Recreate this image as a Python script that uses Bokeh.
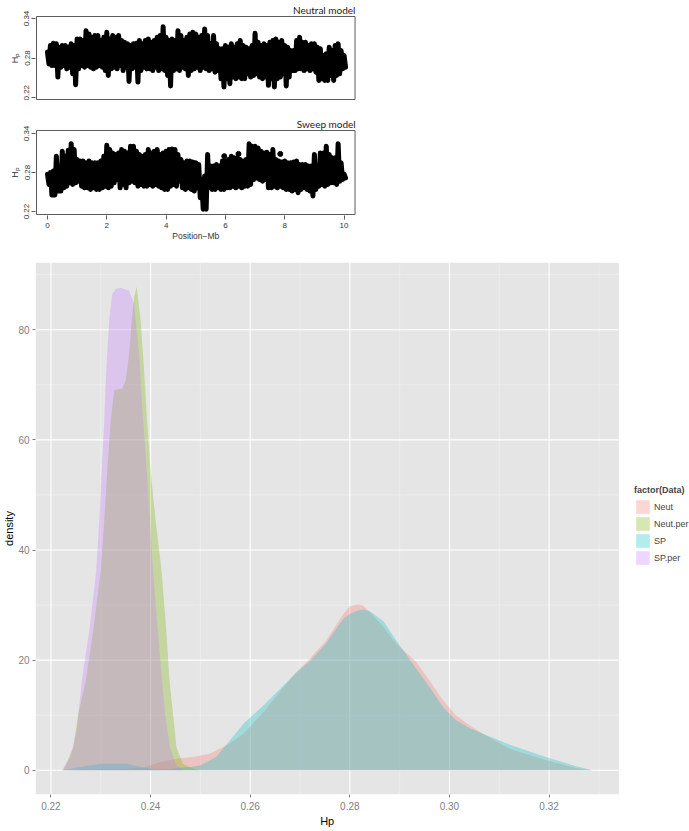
import json
import numpy as np
from bokeh.plotting import figure
from bokeh.layouts import column
from bokeh.models import (Range1d, FixedTicker, NumeralTickFormatter, Legend, LegendItem,
                          LinearAxis, CustomJSTickFormatter)
from bokeh.embed import file_html
from bokeh.resources import INLINE

# ---------------- data ----------------
positions_mb = [round(0.1 * i, 1) for i in range(101)]

neutral_hi = [0.289, 0.299, 0.3025, 0.3015, 0.2965, 0.299, 0.299, 0.2965, 0.3015, 0.299,
              0.309, 0.309, 0.3065, 0.3215, 0.3165, 0.3115, 0.314, 0.314, 0.3065, 0.3115,
              0.319, 0.309, 0.314, 0.3115, 0.314, 0.3065, 0.304, 0.3015, 0.299, 0.3015,
              0.3025, 0.3065, 0.3015, 0.3065, 0.309, 0.304, 0.3065, 0.3115, 0.314, 0.3275,
              0.3115, 0.3065, 0.309, 0.3065, 0.3215, 0.314, 0.3065, 0.3115, 0.3165, 0.319,
              0.3165, 0.3115, 0.314, 0.324, 0.314, 0.3015, 0.314, 0.3015, 0.294, 0.294,
              0.299, 0.2965, 0.3015, 0.2965, 0.3015, 0.3065, 0.299, 0.2965, 0.294, 0.299,
              0.3175, 0.304, 0.299, 0.3015, 0.299, 0.304, 0.3065, 0.309, 0.304, 0.3065,
              0.299, 0.2965, 0.2915, 0.2915, 0.3065, 0.3115, 0.304, 0.304, 0.299, 0.3015,
              0.3015, 0.2965, 0.294, 0.284, 0.2865, 0.2965, 0.2915, 0.299, 0.3015, 0.2915,
              0.284]
neutral_lo = [0.271, 0.2685, 0.2685, 0.251, 0.266, 0.2685, 0.2635, 0.266, 0.256, 0.2395,
              0.2635, 0.2685, 0.266, 0.2685, 0.266, 0.2635, 0.266, 0.2685, 0.266, 0.261,
              0.2535, 0.2635, 0.266, 0.2635, 0.2685, 0.261, 0.266, 0.2445, 0.2635, 0.266,
              0.2435, 0.261, 0.266, 0.2635, 0.2635, 0.261, 0.266, 0.261, 0.2635, 0.261,
              0.2535, 0.2375, 0.261, 0.2635, 0.261, 0.266, 0.2635, 0.2535, 0.261, 0.2635,
              0.266, 0.261, 0.266, 0.2635, 0.261, 0.2635, 0.2585, 0.261, 0.2485, 0.236,
              0.2485, 0.241, 0.251, 0.2485, 0.251, 0.2485, 0.2485, 0.256, 0.251, 0.2535,
              0.256, 0.251, 0.2485, 0.251, 0.2385, 0.2485, 0.236, 0.2485, 0.251, 0.256,
              0.2375, 0.251, 0.261, 0.261, 0.2635, 0.2635, 0.261, 0.2635, 0.261, 0.2635,
              0.2585, 0.246, 0.2485, 0.246, 0.246, 0.2535, 0.246, 0.2535, 0.256, 0.2635,
              0.266]

sweep_hi = [0.2773, 0.2798, 0.2823, 0.3051, 0.2849, 0.3127, 0.3051, 0.3142, 0.3243, 0.3152,
            0.3000, 0.2975, 0.2975, 0.2950, 0.2975, 0.2950, 0.2950, 0.2950, 0.2975, 0.3051,
            0.3218, 0.3152, 0.3101, 0.3076, 0.3101, 0.3152, 0.3127, 0.3101, 0.3203, 0.3203,
            0.3127, 0.3076, 0.3051, 0.3076, 0.3152, 0.3101, 0.3127, 0.3152, 0.3076, 0.3101,
            0.3127, 0.3152, 0.3162, 0.3152, 0.3076, 0.3000, 0.2950, 0.2975, 0.2975, 0.2960,
            0.2950, 0.2924, 0.2697, 0.2747, 0.3076, 0.2899, 0.2899, 0.2924, 0.2899, 0.2975,
            0.2975, 0.3000, 0.3051, 0.3026, 0.3026, 0.3000, 0.2975, 0.3000, 0.3243, 0.3203,
            0.3203, 0.3177, 0.3127, 0.3101, 0.3112, 0.3076, 0.3152, 0.3000, 0.2975, 0.2960,
            0.2975, 0.2950, 0.2950, 0.2960, 0.2975, 0.2924, 0.2924, 0.2924, 0.2899, 0.2899,
            0.3076, 0.2899, 0.3101, 0.3101, 0.3203, 0.3076, 0.3026, 0.3026, 0.3243, 0.2950,
            0.2773]
sweep_lo = [0.2616, 0.2454, 0.2454, 0.2515, 0.2515, 0.2565, 0.2590, 0.2641, 0.2616, 0.2641,
            0.2666, 0.2590, 0.2565, 0.2565, 0.2540, 0.2565, 0.2540, 0.2540, 0.2565, 0.2590,
            0.2565, 0.2590, 0.2641, 0.2692, 0.2565, 0.2616, 0.2565, 0.2641, 0.2666, 0.2641,
            0.2590, 0.2616, 0.2590, 0.2590, 0.2616, 0.2590, 0.2616, 0.2590, 0.2565, 0.2540,
            0.2540, 0.2590, 0.2616, 0.2590, 0.2666, 0.2565, 0.2540, 0.2565, 0.2540, 0.2515,
            0.2565, 0.2413, 0.2236, 0.2236, 0.2565, 0.2540, 0.2540, 0.2565, 0.2540, 0.2540,
            0.2565, 0.2565, 0.2590, 0.2565, 0.2590, 0.2565, 0.2590, 0.2590, 0.2616, 0.2692,
            0.2717, 0.2692, 0.2666, 0.2692, 0.2565, 0.2565, 0.2590, 0.2565, 0.2590, 0.2565,
            0.2540, 0.2540, 0.2515, 0.2540, 0.2489, 0.2540, 0.2565, 0.2540, 0.2515, 0.2439,
            0.2540, 0.2590, 0.2616, 0.2590, 0.2616, 0.2641, 0.2641, 0.2616, 0.2666, 0.2692,
            0.2717]
sweep_dot_mb = [5.96, 6.44, 7.85]
sweep_dot_hp = [0.3051, 0.3086, 0.3086]
hp_ticks = [0.22, 0.28, 0.34]
mb_ticks = [0, 2, 4, 6, 8, 10]

groups = ["Neut", "Neut.per", "SP", "SP.per"]
neut_x = [0.2235, 0.2300, 0.2350, 0.2385, 0.2419, 0.2452, 0.2485, 0.2519, 0.2539, 0.2560,
          0.2587, 0.2627, 0.2667, 0.2693, 0.2720, 0.2753, 0.2787, 0.2800, 0.2817, 0.2827,
          0.2840, 0.2867, 0.2893, 0.2933, 0.2960, 0.2987, 0.3013, 0.3040, 0.3067, 0.3120,
          0.3187, 0.3253, 0.3287]
neut_y = [0, 0.2, 0.3, 0.5, 1.5, 2.1, 2.4, 3.0, 3.9, 4.9,
          6.65, 10.6, 15.1, 17.8, 20.3, 23.6, 28.4, 29.8, 30.1, 29.9,
          28.7, 26.0, 23.0, 19.7, 16.3, 12.7, 10.0, 8.2, 6.65, 3.9,
          2.0, 0.4, 0]
neutper_x = [0.2225, 0.2245, 0.2255, 0.2270, 0.2286, 0.2300, 0.2307, 0.2313, 0.2320, 0.2327,
             0.2335, 0.2343, 0.2350, 0.2357, 0.2362, 0.2367, 0.2372, 0.2380, 0.2387, 0.2393,
             0.2400, 0.2410, 0.2422, 0.2431, 0.2438, 0.2445, 0.2452, 0.2465, 0.2485, 0.2499]
neutper_y = [0, 4.2, 10.3, 16.3, 26.0, 36.3, 45.4, 54.4, 63.5, 69.0,
             69.2, 69.3, 70.8, 75.6, 81.7, 85.9, 87.8, 81.7, 72.6, 63.5,
             54.4, 45.4, 36.3, 26.0, 16.3, 10.3, 4.2, 1.2, 0.3, 0]
sp_x = [0.2222, 0.2252, 0.2299, 0.2352, 0.2385, 0.2405, 0.2440, 0.2480, 0.2500, 0.2532,
        0.2559, 0.2587, 0.2627, 0.2667, 0.2693, 0.2720, 0.2753, 0.2787, 0.2800, 0.2817,
        0.2827, 0.2840, 0.2867, 0.2893, 0.2933, 0.2960, 0.2987, 0.3013, 0.3040, 0.3067,
        0.3120, 0.3187, 0.3253, 0.3287]
sp_y = [0, 0.5, 1.2, 1.2, 0.5, 0.3, 0.3, 0.6, 0.9, 2.4,
        5.4, 8.5, 11.8, 15.4, 17.8, 19.8, 23.1, 27.5, 28.4, 29.0,
        29.2, 28.9, 27.1, 23.6, 18.5, 15.1, 11.5, 9.1, 7.7, 6.65,
        4.7, 2.6, 0.8, 0]
spper_x = [0.2222, 0.2239, 0.2252, 0.2262, 0.2278, 0.2291, 0.2297, 0.2302, 0.2307, 0.2311,
           0.2317, 0.2323, 0.2330, 0.2340, 0.2350, 0.2357, 0.2363, 0.2367, 0.2377, 0.2383,
           0.2390, 0.2397, 0.2405, 0.2414, 0.2423, 0.2429, 0.2439, 0.2452, 0.2465]
spper_y = [0, 2.4, 7.3, 16.3, 26.0, 36.3, 45.4, 54.4, 63.5, 72.6,
           81.7, 86.5, 87.4, 87.6, 87.3, 87.1, 85.6, 84.7, 75.6, 66.5,
           57.5, 48.4, 36.3, 26.0, 16.3, 10.3, 4.2, 0.9, 0]
group_colors = ["#F8766D", "#7CAE00", "#00BFC4", "#C77CFF"]
hp_axis_ticks = [0.22, 0.24, 0.26, 0.28, 0.30, 0.32]
hp_axis_minor = [0.23, 0.25, 0.27, 0.29, 0.31, 0.33]
dens_ticks = [0, 20, 40, 60, 80]
dens_minor = [10, 30, 50, 70, 90]

SANS = "Liberation Sans"
TITLE_FONT = "Lato"
W = 689
LEFT_B = 32
RIGHT_B = 0
FRAME_W = W - LEFT_B - RIGHT_B
BOX_LEFT_PX, BOX_RIGHT_PX = 33, 353     # where the R plot box sits on the page
BOX_X0, BOX_X1 = -0.37, 10.37           # R plot region (4% padding around 0..10)
PX_PER_MB = (BOX_RIGHT_PX - BOX_LEFT_PX) / (BOX_X1 - BOX_X0)


def zigzag(pos, hi, lo):
    xs, ys = [], []
    for p_, h, l in zip(pos, hi, lo):
        xs.extend([p_, p_ + 0.05])
        ys.extend([h, l])
    return xs, ys


def text_axis(text, at, font, size, color, standoff):
    """An extra axis with a single labelled tick, used to place a text under/over a panel."""
    return LinearAxis(ticker=FixedTicker(ticks=[at]),
                      formatter=CustomJSTickFormatter(code="return %s;" % json.dumps(text)),
                      axis_line_color=None, major_tick_line_color=None,
                      minor_tick_line_color=None, major_tick_out=0, major_tick_in=0,
                      major_label_standoff=standoff, major_label_text_font=font,
                      major_label_text_font_size=size, major_label_text_color=color)


def genome_panel(title, title_at, hi, lo, box_y, frame_y, height, top, bottom, with_x):
    xr0 = BOX_X0 - (BOX_LEFT_PX - LEFT_B) / PX_PER_MB
    xr1 = xr0 + FRAME_W / PX_PER_MB
    p = figure(width=W, height=height, x_range=Range1d(xr0, xr1), y_range=Range1d(*frame_y),
               output_backend="svg", toolbar_location=None, title=None,
               min_border_left=LEFT_B, min_border_right=RIGHT_B, min_border_top=top,
               min_border_bottom=bottom, x_axis_location="below" if with_x else None)
    p.grid.visible = False
    p.outline_line_color = None
    p.quad(left=BOX_X0, right=BOX_X1, bottom=box_y[0], top=box_y[1], fill_color=None,
           line_color="#5a5a5a", line_width=1)
    xs, ys = zigzag(positions_mb, hi, lo)
    p.line(xs, ys, line_color="black", line_width=5, line_join="round", line_cap="round")
    ya = p.left[0]
    ya.ticker = FixedTicker(ticks=hp_ticks)
    ya.formatter = NumeralTickFormatter(format="0.00")
    ya.axis_line_color = None
    ya.major_tick_line_color = "#5a5a5a"
    ya.major_tick_out = 4
    ya.major_tick_in = 0
    ya.minor_tick_line_color = None
    ya.major_label_orientation = "vertical"
    ya.major_label_text_font = SANS
    ya.major_label_text_font_size = "8px"
    ya.major_label_text_color = "#333333"
    ya.major_label_standoff = 2
    ya.axis_label = "Hₚ"
    ya.axis_label_text_font = SANS
    ya.axis_label_text_font_size = "9px"
    ya.axis_label_text_font_style = "normal"
    ya.axis_label_text_color = "#333333"
    ya.axis_label_standoff = 2
    if with_x:
        xa = p.below[0]               # the figure's own x axis (styled before extra axes)
        xa.ticker = FixedTicker(ticks=mb_ticks)
        xa.axis_line_color = None
        xa.major_tick_line_color = "#5a5a5a"
        xa.major_tick_out = 4
        xa.major_tick_in = 0
        xa.minor_tick_line_color = None
        xa.major_label_text_font = SANS
        xa.major_label_text_font_size = "8px"
        xa.major_label_text_color = "#333333"
        xa.major_label_standoff = 3
        p.add_layout(text_axis("Position\u2212Mb", 5, SANS, "8.5px", "#333333", 0), "below")
    p.add_layout(text_axis(title, title_at, TITLE_FONT, "10px", "#222222", 0), "above")
    return p


p1 = genome_panel("Neutral model", 9.33, neutral_hi, neutral_lo, (0.217, 0.343),
                  (0.2155, 0.3445), 100, 14, 0, False)
p2 = genome_panel("Sweep model", 9.40, sweep_hi, sweep_lo, (0.2154, 0.3446),
                  (0.2139, 0.3461), 143, 29, 27, True)
p2.scatter(sweep_dot_mb, sweep_dot_hp, size=5, color="black")

# ---------------- density chart ----------------
X0, X1 = 0.2169, 0.3340          # ggplot panel limits (5% expansion)
Y0, Y1 = -4.39, 92.2
PANEL_W = 586                     # panel width in px; the frame also holds the legend
XR1 = X0 + FRAME_W * (X1 - X0) / PANEL_W
p3 = figure(width=W, height=588, x_range=Range1d(X0, XR1), y_range=Range1d(Y0, Y1),
            output_backend="svg", toolbar_location=None, title=None,
            min_border_left=LEFT_B, min_border_right=RIGHT_B, min_border_top=19,
            min_border_bottom=37)
p3.background_fill_color = "white"
p3.outline_line_color = None
p3.grid.visible = False

# grey panel + grid lines (ggplot theme_grey)
p3.quad(left=X0, right=X1, bottom=Y0, top=Y1, fill_color="#E5E5E5", line_color=None)
p3.segment(x0=hp_axis_minor, x1=hp_axis_minor, y0=Y0, y1=Y1, line_color="#F2F2F2", line_width=0.6)
p3.segment(x0=X0, x1=X1, y0=dens_minor, y1=dens_minor, line_color="#F2F2F2", line_width=0.6)
p3.segment(x0=hp_axis_ticks, x1=hp_axis_ticks, y0=Y0, y1=Y1, line_color="white", line_width=1.1)
p3.segment(x0=X0, x1=X1, y0=dens_ticks, y1=dens_ticks, line_color="white", line_width=1.1)

series = [(neut_x, neut_y), (neutper_x, neutper_y), (sp_x, sp_y), (spper_x, spper_y)]
rends = []
for (xs, ys), col in zip(series, group_colors):
    r = p3.varea(x=xs, y1=0, y2=ys, fill_color=col, fill_alpha=0.3)
    rends.append(r)

xa3 = p3.below[0]
ya3 = p3.left[0]
xa3.ticker = FixedTicker(ticks=hp_axis_ticks)
ya3.ticker = FixedTicker(ticks=dens_ticks)
xa3.formatter = NumeralTickFormatter(format="0.00")
for ax in (xa3, ya3):
    ax.axis_line_color = None
    ax.major_tick_line_color = "#7F7F7F"
    ax.major_tick_out = 3
    ax.major_tick_in = 0
    ax.minor_tick_line_color = None
    ax.major_label_text_font = SANS
    ax.major_label_text_font_size = "10px"
    ax.major_label_text_color = "#7F7F7F"
    ax.axis_label_text_font = SANS
    ax.axis_label_text_font_size = "11px"
    ax.axis_label_text_font_style = "normal"
    ax.axis_label_text_color = "black"
xa3.major_label_standoff = 4
ya3.axis_label = "density"
ya3.major_label_standoff = 3
ya3.axis_label_standoff = 0
p3.add_layout(text_axis("Hp", (X0 + X1) / 2, SANS, "11px", "black", 2), "below")

legend = Legend(items=[LegendItem(label=g, renderers=[r]) for g, r in zip(groups, rends)],
                location=(PANEL_W + 13, 228), title="factor(Data)", orientation="vertical",
                glyph_width=17, glyph_height=17, label_height=17, label_width=20,
                spacing=0, padding=0, margin=0, label_standoff=3, title_standoff=3,
                label_text_font=SANS, label_text_font_size="9px",
                title_text_font=SANS, title_text_font_size="9px",
                title_text_font_style="bold", border_line_color=None,
                background_fill_alpha=0)
p3.add_layout(legend)

layout = column(p1, p2, p3, spacing=0)
open("out.html", "w").write(file_html(layout, INLINE))
